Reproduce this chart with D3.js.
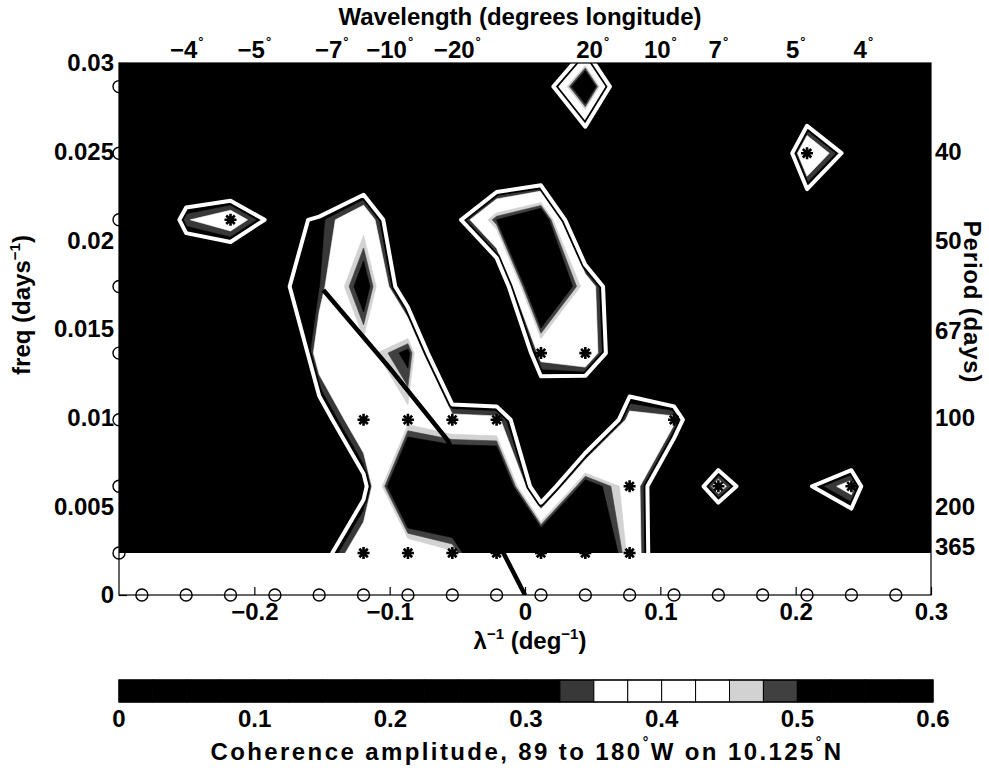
<!DOCTYPE html>
<html>
<head>
<meta charset="utf-8">
<script src="https://cdn.jsdelivr.net/npm/d3@7"></script>
<style>
  body { margin: 0; background: #fff; }
  text { font-family: "Liberation Sans", Arial, Helvetica, sans-serif; font-weight: bold; fill: #000; }
</style>
</head>
<body>
<svg id="fig" width="989" height="772"></svg>
<script>
// Zonal wavenumber of each spectral column (cycles per degree of longitude)
const wavenumbers = [-0.3159, -0.2831, -0.2504, -0.2176, -0.1848, -0.1521, -0.1193, -0.0865, -0.0537, -0.0210,
                      0.0118,  0.0446,  0.0773,  0.1101,  0.1429,  0.1756,  0.2084,  0.2412,  0.2740,  0.3067];
// Frequency of each spectral row (cycles per day)
const frequencies = [0.00237, 0.00613, 0.00988, 0.01364, 0.0174, 0.02116, 0.02491, 0.02867, 0.03243];

// Coherence amplitude, one row per frequency (lowest first), one value per wavenumber
const coherence = [
  [0.15, 0.18, 0.16, 0.20, 0.18, 0.25, 0.42, 0.38, 0.44, 0.70, 0.70, 0.70, 0.43, 0.12, 0.02, 0.10, 0.15, 0.14, 0.10, 0.12],
  [0.12, 0.15, 0.20, 0.15, 0.12, 0.20, 0.27, 0.70, 0.70, 0.70, 0.17, 0.55, 0.42, 0.12, 0.39, 0.17, 0.29, 0.38, 0.02, 0.10],
  [0.10, 0.12, 0.15, 0.18, 0.15, 0.245, 0.43, 0.43, 0.38, 0.37, 0.15, 0.05, 0.38, 0.37, 0.02, 0.10, 0.15, 0.05, 0.10, 0.12],
  [0.10, 0.12, 0.10, 0.10, 0.02, 0.40, 0.42, 0.52, 0.03, 0.02, 0.38, 0.43, 0.15, 0.02, 0.10, 0.12, 0.10, 0.15, 0.12, 0.10],
  [0.12, 0.10, 0.12, 0.10, 0.29, 0.32, 0.55, 0.20, 0.10, 0.15, 0.70, 0.42, 0.12, 0.10, 0.12, 0.10, 0.15, 0.12, 0.10, 0.12],
  [0.10, 0.05, 0.345, 0.40, 0.27, 0.31, 0.42, 0.15, 0.25, 0.50, 0.60, 0.05, 0.10, 0.12, 0.10, 0.15, 0.18, 0.10, 0.12, 0.10],
  [0.12, 0.10, 0.10, 0.05, 0.10, 0.10, 0.10, 0.12, 0.10, 0.02, 0.02, 0.07, 0.15, 0.10, 0.12, 0.02, 0.44, 0.26, 0.10, 0.12],
  [0.10, 0.12, 0.10, 0.12, 0.10, 0.12, 0.10, 0.10, 0.12, 0.10, 0.164, 0.65, 0.02, 0.10, 0.12, 0.10, 0.10, 0.12, 0.10, 0.10],
  [0.10, 0.10, 0.12, 0.10, 0.10, 0.10, 0.12, 0.10, 0.10, 0.12, 0.10, 0.02, 0.10, 0.12, 0.10, 0.10, 0.12, 0.10, 0.10, 0.12]
];

// Grid points flagged as significant: [wavenumber index, frequency index]
const significant = [
  [6, 0], [7, 0], [8, 0], [9, 0], [10, 0], [11, 0], [12, 0],
  [12, 1], [14, 1], [17, 1],
  [6, 2], [7, 2], [8, 2], [9, 2], [13, 2],
  [10, 3], [11, 3],
  [3, 5], [16, 6]
];

// Level drawn as the white contour
const significanceLevel = 0.3;

// First-mode Rossby wave dispersion curve (wavenumber, frequency)
const rossbyK = [0, -0.0144, -0.0573, -0.1, -0.149];
const rossbyF = [0, 0.00214, 0.00874, 0.0128, 0.0172];

// Axis ticks
const kTicks = [-0.2, -0.1, 0, 0.1, 0.2, 0.3];
const fTicks = [0, 0.005, 0.01, 0.015, 0.02, 0.025, 0.03];
const periodTicks = [40, 50, 67, 100, 200, 365];
const wavelengthTicks = [-4, -5, -7, -10, -20, 20, 10, 7, 5, 4];
const colorbarTicks = [0, 0.1, 0.2, 0.3, 0.4, 0.5, 0.6];

// Contour levels and their shading
const levels = d3.range(24).map(i => +(i * 0.025).toFixed(3));
function levelColor(t) {
  if (t < 0.325) return "#000";
  if (t < 0.35) return "#383838";
  if (t < 0.45) return "#fff";
  if (t < 0.475) return "#d2d2d2";
  if (t < 0.5) return "#404040";
  return "#000";
}

const svg = d3.select("#fig");
const x = d3.scaleLinear([-0.3, 0.3], [119, 931]);
const y = d3.scaleLinear([0, 0.03], [595, 63]);

const nk = wavenumbers.length, nf = frequencies.length;
// d3.contours places sample i at grid coordinate i + 0.5
const gx = d3.scaleLinear([0.5, nk - 0.5], [wavenumbers[0], wavenumbers[nk - 1]]);
const gy = d3.scaleLinear([0.5, nf - 0.5], [frequencies[0], frequencies[nf - 1]]);
const gridPath = d3.geoPath(d3.geoTransform({
  point(px, py) { this.stream.point(x(gx(px)), y(gy(py))); }
}));
const values = coherence.flat();

const defs = svg.append("defs");
defs.append("clipPath").attr("id", "plotClip").append("rect")
  .attr("x", x(-0.3)).attr("y", y(0.03))
  .attr("width", x(0.3) - x(-0.3)).attr("height", y(0) - y(0.03));
defs.append("clipPath").attr("id", "gridClip").append("rect")
  .attr("x", x(-0.3)).attr("y", y(0.03))
  .attr("width", x(0.3) - x(-0.3)).attr("height", y(frequencies[0]) - y(0.03));

// Circles marking the frequency rows on the left edge (under the shading)
svg.append("g").selectAll("circle")
  .data(frequencies.slice(0, 8))
  .join("circle")
  .attr("cx", x(-0.3)).attr("cy", d => y(d)).attr("r", 6)
  .attr("fill", "none").attr("stroke", "#000").attr("stroke-width", 1.4);

// Filled contours
const contourGen = d3.contours().size([nk, nf]).thresholds(levels);
const bands = contourGen(values);
const fillG = svg.append("g").attr("clip-path", "url(#gridClip)");
fillG.selectAll("path")
  .data(bands)
  .join("path")
  .attr("d", gridPath)
  .attr("fill", d => levelColor(d.value))
  .attr("stroke", d => levelColor(d.value))
  .attr("stroke-width", 0.6);

// White contour at the significance level, with a dark casing
const sigContour = d3.contours().size([nk, nf]).contour(values, significanceLevel);
const lineG = svg.append("g").attr("clip-path", "url(#gridClip)");
lineG.append("path").attr("d", gridPath(sigContour))
  .attr("fill", "none").attr("stroke", "#000").attr("stroke-width", 7.5).attr("stroke-linejoin", "round");
lineG.append("path").attr("d", gridPath(sigContour))
  .attr("fill", "none").attr("stroke", "#fff").attr("stroke-width", 4).attr("stroke-linejoin", "round");

// Dispersion curve
svg.append("path")
  .attr("clip-path", "url(#plotClip)")
  .attr("d", d3.line().x((d, i) => x(rossbyK[i])).y((d, i) => y(rossbyF[i]))(rossbyK))
  .attr("fill", "none").attr("stroke", "#000").attr("stroke-width", 4.5);

// Significance asterisks
function asterisk(r) {
  let s = "";
  for (let a = 0; a < 4; a++) {
    const t = a * Math.PI / 4, c = r * Math.cos(t), sn = r * Math.sin(t);
    s += `M${-c},${-sn}L${c},${sn}`;
  }
  return s;
}
svg.append("g").selectAll("path")
  .data(significant)
  .join("path")
  .attr("transform", d => `translate(${x(wavenumbers[d[0]])},${y(frequencies[d[1]])})`)
  .attr("d", asterisk(6))
  .attr("stroke", "#000").attr("stroke-width", 2.6).attr("fill", "none");

// Axes box
svg.append("rect")
  .attr("x", x(-0.3)).attr("y", y(0.03))
  .attr("width", x(0.3) - x(-0.3)).attr("height", y(0) - y(0.03))
  .attr("fill", "none").attr("stroke", "#000").attr("stroke-width", 1.2);

// Circles marking the wavenumber columns along the zero-frequency axis
svg.append("g").selectAll("circle")
  .data(wavenumbers.slice(1, nk - 1))
  .join("circle")
  .attr("cx", d => x(d)).attr("cy", y(0)).attr("r", 6)
  .attr("fill", "none").attr("stroke", "#000").attr("stroke-width", 1.4);

const fontSize = 24;
const fmtMinus = v => String(v).replace("-", "\u2212");

// Bottom axis
const bottomAxis = svg.append("g").attr("transform", `translate(0,${y(0)})`)
  .call(d3.axisBottom(x).tickValues(kTicks).tickSize(-8).tickPadding(8).tickFormat(fmtMinus));
// Left axis
const leftAxis = svg.append("g").attr("transform", `translate(${x(-0.3)},0)`)
  .call(d3.axisLeft(y).tickValues(fTicks).tickSize(-8).tickPadding(5).tickFormat(d => String(d)));
// Right axis: period in days
const rightAxis = svg.append("g").attr("transform", `translate(${x(0.3)},0)`)
  .call(d3.axisRight(y).tickValues(periodTicks.map(p => 1 / p)).tickSize(-8).tickPadding(4)
    .tickFormat((d, i) => periodTicks[i]));
[bottomAxis, leftAxis, rightAxis].forEach(a => {
  a.select(".domain").remove();
  a.selectAll("text").attr("font-size", fontSize).attr("font-family", null);
  a.selectAll("line").attr("stroke-width", 1.2);
});

// Top axis: wavelength in degrees
const topAxisG = svg.append("g");
const topLabels = topAxisG.selectAll("text")
  .data(wavelengthTicks)
  .join("text")
  .attr("x", d => x(1 / d))
  .attr("y", 58)
  .attr("text-anchor", "middle")
  .attr("font-size", fontSize);
topLabels.append("tspan").text(d => fmtMinus(d));
topLabels.append("tspan").text("\u00b0").attr("font-size", 13).attr("dy", -12).attr("dx", 1);

// Titles
svg.append("text").attr("x", 520).attr("y", 25).attr("text-anchor", "middle")
  .attr("font-size", fontSize).text("Wavelength (degrees longitude)");

const xl = svg.append("text").attr("x", 530).attr("y", 649).attr("text-anchor", "middle").attr("font-size", fontSize);
xl.append("tspan").text("\u03bb");
xl.append("tspan").text("\u22121").attr("font-size", 15).attr("dy", -10);
xl.append("tspan").text(" (deg").attr("dy", 10);
xl.append("tspan").text("\u22121").attr("font-size", 15).attr("dy", -10);
xl.append("tspan").text(")").attr("dy", 10);

const yl = svg.append("text").attr("transform", "translate(30,305) rotate(-90)")
  .attr("text-anchor", "middle").attr("font-size", fontSize);
yl.append("tspan").text("freq (days");
yl.append("tspan").text("\u22121").attr("font-size", 15).attr("dy", -10);
yl.append("tspan").text(")").attr("dy", 10);

svg.append("text").attr("transform", "translate(964,302) rotate(90)")
  .attr("text-anchor", "middle").attr("font-size", fontSize).attr("letter-spacing", 0.8)
  .text("Period (days)");

// Colorbar
const cb = d3.scaleLinear([0, 0.6], [119, 933]);
const cbTop = 680, cbH = 22;
svg.append("g").selectAll("rect")
  .data(levels)
  .join("rect")
  .attr("x", d => cb(d)).attr("y", cbTop)
  .attr("width", cb(0.025) - cb(0)).attr("height", cbH)
  .attr("fill", d => levelColor(d)).attr("stroke", "#000").attr("stroke-width", 1);
svg.append("rect").attr("x", cb(0)).attr("y", cbTop).attr("width", cb(0.6) - cb(0)).attr("height", cbH)
  .attr("fill", "none").attr("stroke", "#000").attr("stroke-width", 1.2);
svg.append("g").selectAll("text")
  .data(colorbarTicks)
  .join("text")
  .attr("x", d => cb(d)).attr("y", 727).attr("text-anchor", "middle")
  .attr("font-size", fontSize).text(d => String(d));

const ct = svg.append("text").attr("x", 527).attr("y", 760).attr("text-anchor", "middle")
  .attr("font-size", fontSize).attr("letter-spacing", 2.4);
ct.append("tspan").text("Coherence amplitude, 89 to 180");
ct.append("tspan").text("\u00b0").attr("font-size", 14).attr("dy", -13);
ct.append("tspan").text("W on 10.125").attr("dy", 13);
ct.append("tspan").text("\u00b0").attr("font-size", 14).attr("dy", -13);
ct.append("tspan").text("N").attr("dy", 13);
</script>
</body>
</html>
